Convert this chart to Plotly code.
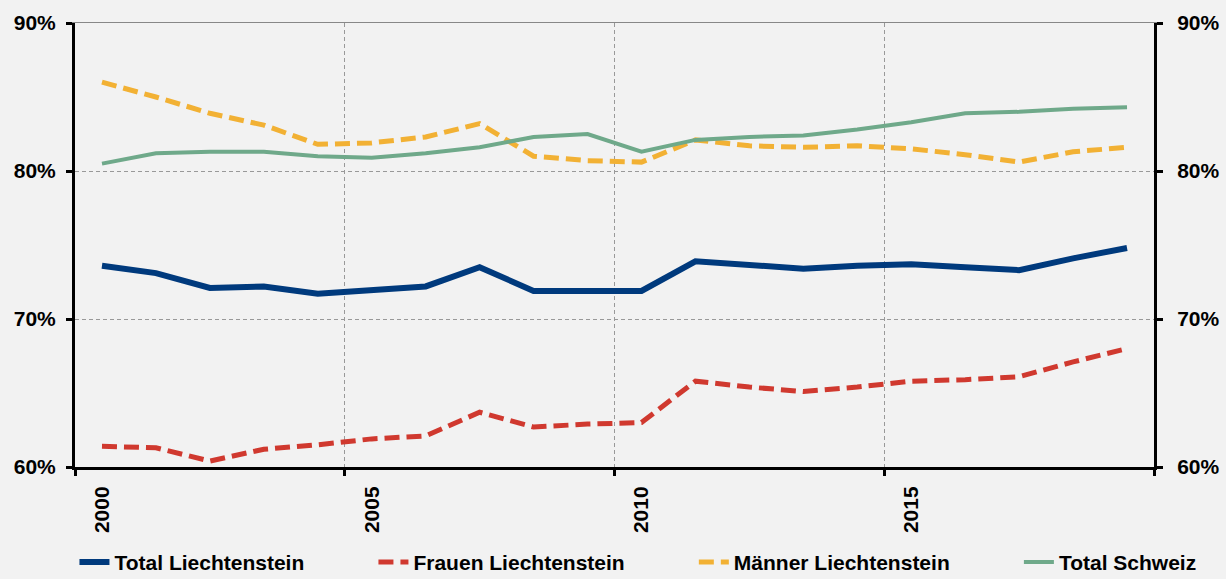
import plotly.graph_objects as go

# Erwerbsquote 2000-2019
years = [str(y) for y in range(2000, 2020)]

total_li = [73.6, 73.1, 72.1, 72.2, 71.7, 72.0, 72.2, 73.5, 71.9, 71.9,
            71.9, 73.9, 73.6, 73.4, 73.6, 73.7, 73.5, 73.3, 74.1, 74.8]
frauen_li = [61.4, 61.3, 60.4, 61.2, 61.5, 61.9, 62.1, 63.7, 62.7, 62.9,
             63.0, 65.8, 65.4, 65.1, 65.4, 65.8, 65.9, 66.1, 67.1, 68.0]
maenner_li = [86.0, 85.0, 83.9, 83.1, 81.8, 81.9, 82.3, 83.2, 81.0, 80.7,
              80.6, 82.1, 81.7, 81.6, 81.7, 81.5, 81.1, 80.6, 81.3, 81.6]
total_ch = [80.5, 81.2, 81.3, 81.3, 81.0, 80.9, 81.2, 81.6, 82.3, 82.5,
            81.3, 82.1, 82.3, 82.4, 82.8, 83.3, 83.9, 84.0, 84.2, 84.3]

pad = "\u00a0" * 11  # extra room between legend entries
series = [
    ("Total Liechtenstein", total_li, "#003A7D", 6, "solid", "x", "y"),
    ("Frauen Liechtenstein", frauen_li, "#D0392F", 5, "15px,7px", "x", "y"),
    ("Männer Liechtenstein", maenner_li, "#F2B134", 5, "15px,7px", "x", "y"),
    # last one sits on the overlay axes so the right axis and top border get drawn
    ("Total Schweiz", total_ch, "#6FA98A", 4, "solid", "x2", "y2"),
]

fig = go.Figure()
for i, (name, vals, color, width, dash, xa, ya) in enumerate(series):
    label = name + (pad if i < len(series) - 1 else "")
    fig.add_trace(go.Scatter(x=years, y=vals, name=label, mode="lines",
                             xaxis=xa, yaxis=ya,
                             line=dict(color=color, width=width, dash=dash)))

font = dict(family="Liberation Sans, Arial", size=21, color="black", weight="bold")
axis_common = dict(showline=True, linecolor="black", linewidth=3,
                   ticks="outside", ticklen=6, tickwidth=3, tickcolor="black",
                   zeroline=False, automargin=False)
xrange = [-0.5, len(years) - 0.5]

fig.update_layout(
    width=1226, height=579,
    margin=dict(l=75, r=72, t=23, b=112, autoexpand=False),
    paper_bgcolor="#F2F2F2", plot_bgcolor="#F2F2F2",
    font=font,
    showlegend=True,
    # x slightly below 0 so the legend may use the left margin width as well
    legend=dict(orientation="h", x=-0.0005, y=-0.215, xanchor="left", yanchor="middle",
                font=font, bgcolor="rgba(0,0,0,0)", traceorder="normal"),
    xaxis=dict(type="category", range=xrange, tickson="boundaries", dtick=5,
               tickangle=-90, tickfont=font, ticklabelstandoff=8,
               showgrid=True, gridcolor="#999999",
               griddash="4px,3px", gridwidth=1, **axis_common),
    xaxis2=dict(type="category", range=xrange, overlaying="x", side="top",
                showline=True, linecolor="#888888", linewidth=1,
                showticklabels=False, ticks="", showgrid=False, zeroline=False),
    yaxis=dict(range=[60, 90], dtick=10, ticksuffix="%", tickfont=font,
               ticklabelstandoff=6, showgrid=True, gridcolor="#999999",
               griddash="4px,3px", gridwidth=1, **axis_common),
    yaxis2=dict(overlaying="y", side="right", range=[60, 90], dtick=10,
                ticksuffix="%", tickfont=font, ticklabelstandoff=10,
                showgrid=False, **axis_common),
)

fig.write_html("out.html", config={"displayModeBar": False},
               post_script="document.body.style.margin='0';"
                           "document.body.style.background='#F2F2F2';")
